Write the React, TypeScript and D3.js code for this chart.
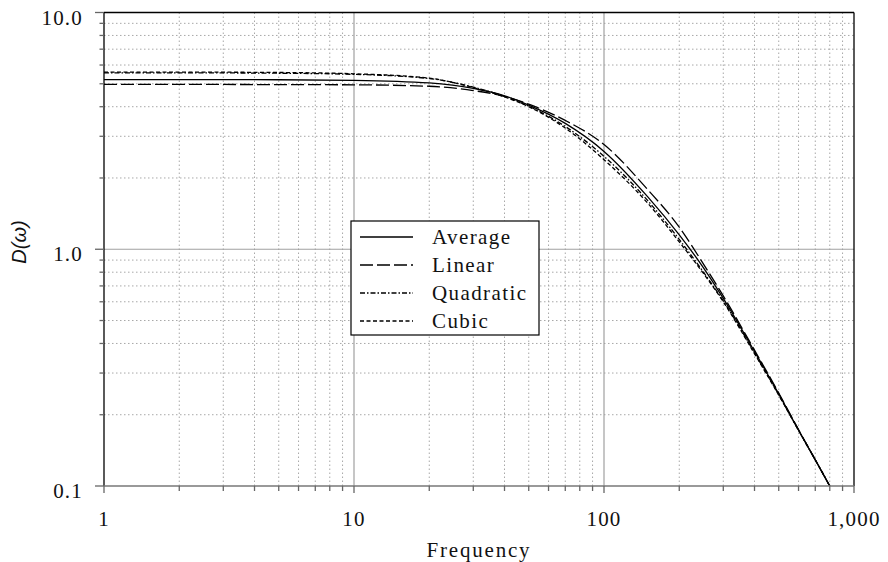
import React from "react";
import * as d3 from "d3";

// frequency samples and D(omega)
const freqs = [1, 2, 5, 10, 20, 30, 40, 50, 70, 100, 150, 200, 250, 300, 400, 500, 600, 700, 800];
const average = [5.21, 5.21, 5.2, 5.17, 5.04, 4.78, 4.45, 4.06, 3.4, 2.59, 1.66, 1.15, 0.835, 0.62, 0.37, 0.245, 0.172, 0.129, 0.1];
const linear = [4.97, 4.97, 4.96, 4.95, 4.88, 4.68, 4.42, 4.1, 3.5, 2.77, 1.78, 1.24, 0.866, 0.635, 0.375, 0.247, 0.173, 0.129, 0.1];
const quadratic = [5.56, 5.56, 5.54, 5.48, 5.26, 4.84, 4.42, 4.02, 3.3, 2.47, 1.6, 1.1, 0.8, 0.605, 0.365, 0.243, 0.172, 0.129, 0.1];
const cubic = [5.6, 5.6, 5.58, 5.51, 5.28, 4.82, 4.4, 4.0, 3.25, 2.39, 1.56, 1.074, 0.79, 0.6, 0.362, 0.242, 0.172, 0.129, 0.1];

const xTicks = [1, 10, 100, 1000];
const xTickLabels = ["1", "10", "100", "1,000"];
const yTicks = [0.1, 1, 10];
const yTickLabels = ["0.1", "1.0", "10.0"];

const series = [
  { name: "Average", values: average, dash: "none" },
  { name: "Linear", values: linear, dash: "13,4" },
  { name: "Quadratic", values: quadratic, dash: "5,2,1.5,2" },
  { name: "Cubic", values: cubic, dash: "4,2.5" },
];

const W = 888;
const H = 562;
const m = { left: 104, right: 854, top: 12.5, bottom: 486 };
const serif = "'Liberation Serif', 'Times New Roman', serif";

export default function App() {
  const x = d3.scaleLog().domain([1, 1000]).range([m.left, m.right]);
  const y = d3.scaleLog().domain([0.1, 10]).range([m.bottom, m.top]);

  const minorX: number[] = [];
  [1, 10, 100].forEach((d) => d3.range(2, 10).forEach((k) => minorX.push(d * k)));
  const minorY: number[] = [];
  [0.1, 1].forEach((d) => d3.range(2, 10).forEach((k) => minorY.push(d * k)));

  const line = d3
    .line<number>()
    .x((_, i) => x(freqs[i]))
    .y((d) => y(d))
    .curve(d3.curveMonotoneX);

  const leg = { x: 351, y: 221, w: 188, h: 114 };

  return (
    <svg width={W} height={H} style={{ position: "absolute", left: 0, top: 0, background: "#fff" }}>
      <defs>
        <clipPath id="plot">
          <rect x={m.left} y={m.top} width={m.right - m.left} height={m.bottom - m.top} />
        </clipPath>
      </defs>

      {/* minor grid */}
      {minorX.map((v) => (
        <line key={"gx" + v} x1={x(v)} x2={x(v)} y1={m.top} y2={m.bottom}
          stroke="#a8a8a8" strokeWidth={1} strokeDasharray="1.5,2.5" />
      ))}
      {minorY.map((v) => (
        <line key={"gy" + v} x1={m.left} x2={m.right} y1={y(v)} y2={y(v)}
          stroke="#a8a8a8" strokeWidth={1} strokeDasharray="1.5,2.5" />
      ))}
      {/* major grid */}
      {[10, 100].map((v) => (
        <line key={"Mx" + v} x1={x(v)} x2={x(v)} y1={m.top} y2={m.bottom} stroke="#a0a0a0" strokeWidth={1.2} />
      ))}
      <line x1={m.left} x2={m.right} y1={y(1)} y2={y(1)} stroke="#a0a0a0" strokeWidth={1.2} />

      {/* curves */}
      <g clipPath="url(#plot)">
        {series.map((s) => (
          <path key={s.name} d={line(s.values) || ""} fill="none" stroke="#000"
            strokeWidth={1.3} strokeDasharray={s.dash} />
        ))}
      </g>

      {/* frame */}
      <line x1={m.left} x2={m.right} y1={m.top} y2={m.top} stroke="#000" strokeWidth={1.3} />
      <line x1={m.left} x2={m.left} y1={m.top} y2={m.bottom} stroke="#000" strokeWidth={1.3} />
      <line x1={m.right} x2={m.right} y1={m.top} y2={m.bottom} stroke="#000" strokeWidth={1.3} />
      <line x1={m.left} x2={m.right} y1={m.bottom} y2={m.bottom} stroke="#777" strokeWidth={1.5} />

      {/* ticks */}
      {xTicks.map((v) => (
        <line key={"tx" + v} x1={x(v)} x2={x(v)} y1={m.bottom} y2={m.bottom + 7} stroke="#666" strokeWidth={1.3} />
      ))}
      {minorX.map((v) => (
        <line key={"mtx" + v} x1={x(v)} x2={x(v)} y1={m.bottom} y2={m.bottom + 5} stroke="#666" strokeWidth={1.3} />
      ))}
      {yTicks.map((v) => (
        <line key={"ty" + v} x1={m.left - 9} x2={m.left} y1={y(v)} y2={y(v)} stroke="#666" strokeWidth={1.3} />
      ))}
      {minorY.map((v) => (
        <line key={"mty" + v} x1={m.left - 4.5} x2={m.left} y1={y(v)} y2={y(v)} stroke="#666" strokeWidth={1.3} />
      ))}

      {/* tick labels */}
      {xTicks.map((v, i) => (
        <text key={"lx" + v} x={x(v)} y={526} textAnchor="middle" fontFamily={serif}
          fontSize={21} letterSpacing={1.2} fill="#111">
          {xTickLabels[i]}
        </text>
      ))}
      {yTicks.map((v, i) => (
        <text key={"ly" + v} x={83} y={y(v) + 12} textAnchor="end" fontFamily={serif}
          fontSize={21} letterSpacing={1.2} fill="#111">
          {yTickLabels[i]}
        </text>
      ))}

      {/* axis titles */}
      <text x={(m.left + m.right) / 2} y={557} textAnchor="middle" fontFamily={serif}
        fontSize={21} letterSpacing={1.8} fill="#111">
        Frequency
      </text>
      <text transform="translate(26,242) rotate(-90)" textAnchor="middle"
        fontFamily="'Liberation Sans', Arial, sans-serif" fontStyle="italic" fontSize={20} fill="#111">
        D(ω)
      </text>

      {/* legend */}
      <rect x={leg.x} y={leg.y} width={leg.w} height={leg.h} fill="#fff" stroke="#000" strokeWidth={1.2} />
      {series.map((s, i) => {
        const ry = 237 + i * 28;
        return (
          <g key={"leg" + s.name}>
            <line x1={360} x2={413} y1={ry} y2={ry} stroke="#000" strokeWidth={1.3} strokeDasharray={s.dash} />
            <text x={432} y={ry + 7} fontFamily={serif} fontSize={21} letterSpacing={1.4} fill="#111">
              {s.name}
            </text>
          </g>
        );
      })}
    </svg>
  );
}
